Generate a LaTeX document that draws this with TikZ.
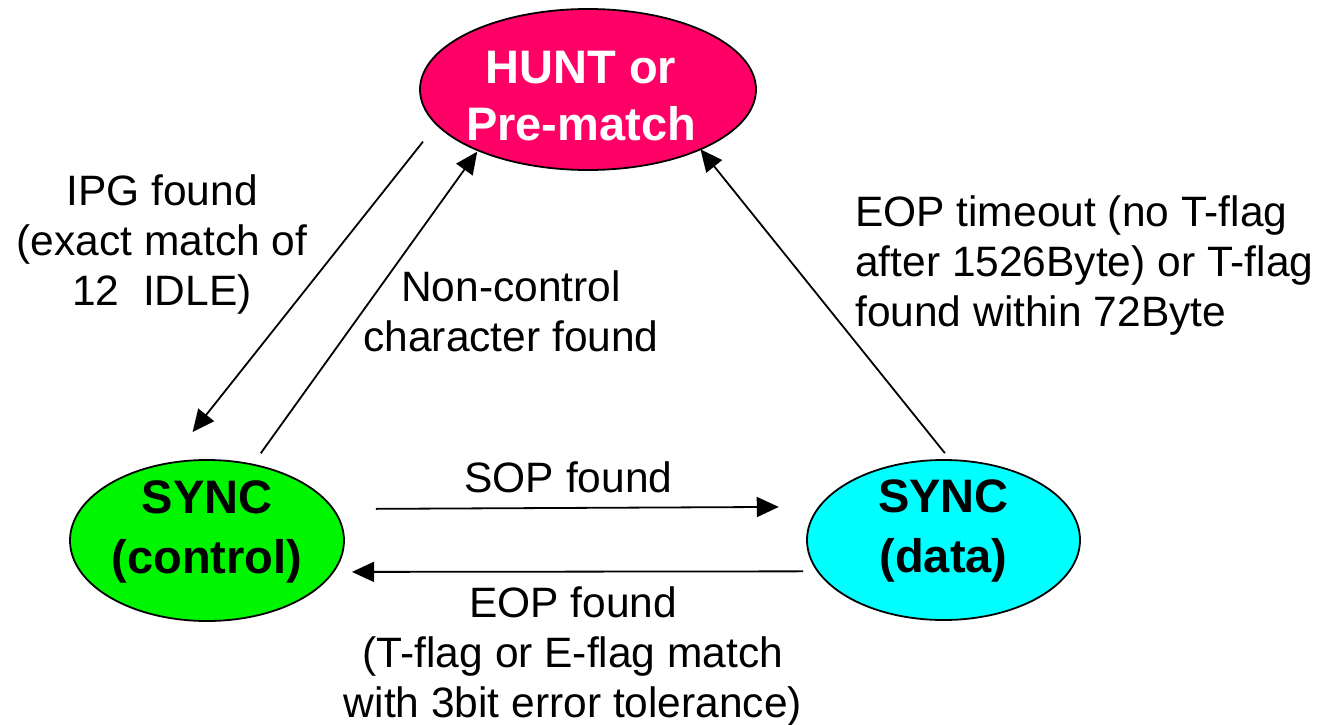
\documentclass[tikz,border=0pt]{standalone}
\usepackage{fontspec}
\setmainfont{Liberation Sans}
\usetikzlibrary{arrows.meta,shapes.geometric}
\definecolor{huntpink}{RGB}{255,0,102}
\definecolor{syncgreen}{RGB}{0,245,0}
\definecolor{synccyan}{RGB}{0,255,255}
\begin{document}
\begin{tikzpicture}[x=1pt,y=-1pt,
  state/.style={ellipse, draw=black, line width=1.8pt, inner sep=0pt, outer sep=0pt},
  statetext/.style={align=center, inner sep=0pt, font=\bfseries\fontsize{47}{60}\selectfont},
  lbl/.style={align=center, inner sep=0pt, font=\fontsize{42.5}{50}\selectfont},
  conn/.style={line width=1.8pt, -{Triangle[length=22pt,width=20pt]}}
]
\useasboundingbox (0,0) rectangle (1323,725);
% states
\node[state, fill=huntpink, minimum width=336pt, minimum height=161pt] (hunt) at (588,89.5) {};
\node[state, fill=syncgreen, minimum width=274pt, minimum height=161pt] (ctrl) at (207,540.5) {};
\node[state, fill=synccyan, minimum width=273pt, minimum height=160pt] (data) at (943.5,540) {};
% state texts
\node[statetext, text=white, font=\bfseries\fontsize{47}{57}\selectfont] (huntT) at ([shift={(-7,7)}]hunt.center) {HUNT or\\Pre-match};
\node[statetext] (ctrlT) at ([shift={(0,-8.5)}]ctrl.center) {SYNC\\(control)};
\node[statetext] (dataT) at ([shift={(0,-9)}]data.center) {SYNC\\(data)};
% labels
\node[lbl] (ipg) at (162,244.5) {IPG found\\(exact match of\\12~~IDLE)};
\node[lbl] (nonctrl) at (511,311.5) {Non-control\\character found};
\node[lbl, align=left, anchor=west] (eoptime) at (855,266) {EOP timeout (no T-flag\\after 1526Byte) or T-flag\\found within 72Byte};
\node[lbl] (sop) at (568.5,477.5) {SOP found};
\node[lbl] (eop) at (573,656) {EOP found\\(T-flag or E-flag match\\with 3bit error tolerance)};
% connectors
\draw[conn, shorten <=22pt, shorten >=40pt] (hunt.193.1) -- (ctrl.117.5);
\draw[conn, shorten <=14pt, shorten >=1.6pt] (ctrl.59.6) -- (hunt.209.3);
\draw[conn, shorten <=9pt] (data.85) -- (hunt.332.9);
\draw[conn, shorten <=42.7pt, shorten >=40.6pt] (ctrl.14.54) -- (data.165.4);
\draw[conn, shorten <=14.9pt, shorten >=18.9pt] (data.194.1) -- (ctrl.346);
\end{tikzpicture}
\end{document}
